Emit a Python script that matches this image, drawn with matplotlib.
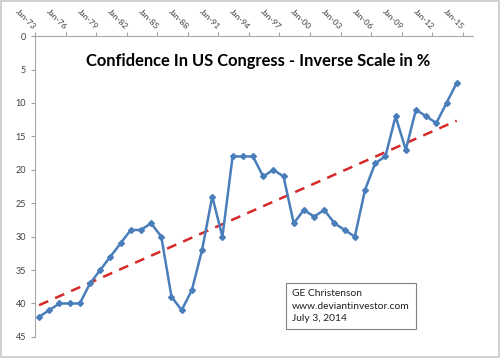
import numpy as np
import matplotlib
matplotlib.use("Agg")
import matplotlib.pyplot as plt
from matplotlib.patches import Rectangle

# ── data: Gallup confidence in Congress, yearly (mid-year polls) ──────────
years = list(range(1973, 2015))
confidence = [42, 41, 40, 40, 40, 37, 35, 33, 31, 29, 29, 28, 30, 39, 41, 38,
              32, 24, 30, 18, 18, 18, 21, 20, 21, 28, 26, 27, 26, 28, 29, 30,
              23, 19, 18, 12, 17, 11, 12, 13, 10, 7]
tick_years = list(range(1973, 2016, 3))
tick_labels = [f"Jan-{y % 100:02d}" for y in tick_years]
y_ticks = list(range(0, 50, 5))

plt.rcParams["font.family"] = ["Lato", "DejaVu Sans"]

x = np.array(years) + 0.4
y = np.array(confidence, dtype=float)

fig = plt.figure(figsize=(5.0, 3.58), dpi=100)
ax = fig.add_axes([0.07, 0.059, 0.876, 0.84])

ax.plot(x, y, color="#4A7EBB", lw=1.8, marker="D", ms=3.0, zorder=3)

# linear trend (like Excel trendline)
k, b = np.polyfit(x, y, 1)
ax.plot(x[[0, -1]], k * x[[0, -1]] + b, color="#D42A2A", lw=1.8,
        ls=(0, (4, 3)), zorder=2)

ax.set_xlim(1973, 2016)
ax.set_ylim(45, 0)
ax.set_yticks(y_ticks)
ax.set_xticks(tick_years)
ax.set_xticklabels(tick_labels, rotation=-45, ha="right", va="center",
                   rotation_mode="anchor")
ax.xaxis.tick_top()
ax.tick_params(axis="x", length=3, color="#A0A0A0", labelsize=6,
               labelcolor="#404040", pad=3)
ax.tick_params(axis="y", length=3, color="#A0A0A0", labelsize=6.5,
               labelcolor="#404040")
for s in ["right", "bottom"]:
    ax.spines[s].set_visible(False)
for s in ["left", "top"]:
    ax.spines[s].set_color("#A8A8A8")
    ax.spines[s].set_linewidth(0.8)

ax.text(0.516, 0.852, "Confidence In US Congress - Inverse Scale in %",
        transform=fig.transFigure, ha="center", va="top", fontsize=11.9,
        fontweight="bold", color="black")

ax.text(0.584, 0.145, "GE Christenson\nwww.deviantinvestor.com\nJuly 3, 2014",
        transform=fig.transFigure, ha="left", va="center", fontsize=7.4,
        linespacing=1.5, color="#202020",
        bbox=dict(boxstyle="square,pad=0.6", fc="white", ec="#808080", lw=0.8))

fig.patches.append(Rectangle((0.002, 0.003), 0.996, 0.994,
                             transform=fig.transFigure, fill=False,
                             ec="#C8C8C8", lw=1.2))

fig.savefig("out.png", dpi=100)
